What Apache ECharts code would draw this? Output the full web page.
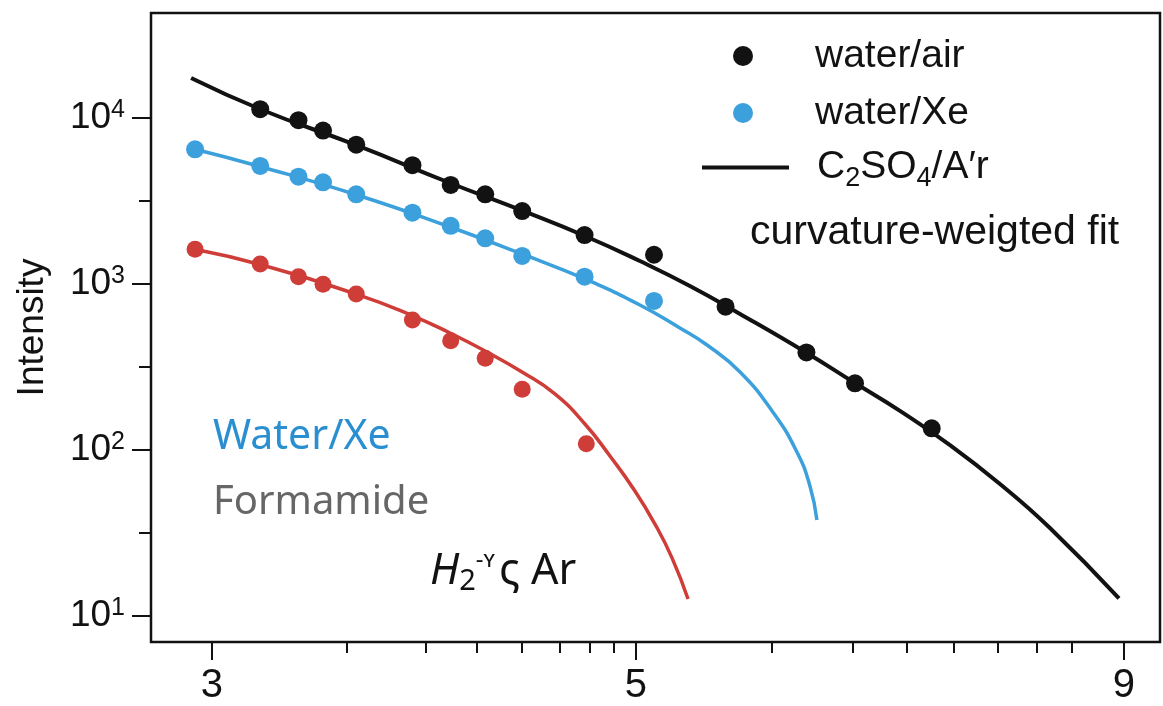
<!DOCTYPE html>
<html>
<head>
<meta charset="utf-8">
<script src="https://cdn.jsdelivr.net/npm/echarts@6/dist/echarts.min.js"></script>
<style>
  html, body { margin: 0; padding: 0; background: #fff; }
  #chart { width: 1163px; height: 706px; }
</style>
</head>
<body>
<div id="chart"></div>
<script>
// measured markers
const waterAirX = [3.18, 3.33, 3.43, 3.57, 3.82, 4.00, 4.17, 4.36, 4.70, 5.11, 5.57, 6.14, 6.51, 7.14];
const waterAirY = [11300, 9700, 8400, 6900, 5200, 3950, 3470, 2750, 1970, 1500, 730, 387, 252, 135];

const waterXeX = [2.94, 3.18, 3.33, 3.43, 3.57, 3.82, 4.00, 4.17, 4.36, 4.70, 5.11];
const waterXeY = [6480, 5140, 4430, 4100, 3470, 2690, 2240, 1885, 1475, 1107, 790];

const formamideX = [2.94, 3.18, 3.33, 3.43, 3.57, 3.82, 4.00, 4.17, 4.36, 4.71];
const formamideY = [1618, 1320, 1107, 995, 871, 607, 455, 357, 232, 109];

// fitted curves
const airFitX = [2.926, 3.183, 3.573, 3.997, 4.364, 4.702, 5.024, 5.336, 5.668, 6.137, 6.510, 6.872, 7.299, 7.752, 8.233, 8.947];
const airFitY = [17410, 11250, 6830, 4059, 2753, 1946, 1375, 973, 660, 387, 253, 172, 107, 62.4, 33.9, 12.75];

const xeFitX = [2.943, 3.179, 3.573, 3.997, 4.359, 4.702, 5.024, 5.272, 5.447, 5.668, 5.897, 6.070, 6.166, 6.218];
const xeFitY = [6460, 5104, 3437, 2205, 1516, 1072, 747, 543, 429, 295, 169, 97.3, 60.7, 37.9];

const redFitX = [2.943, 3.179, 3.573, 3.813, 3.997, 4.169, 4.359, 4.535, 4.702, 4.846, 4.994, 5.116, 5.222, 5.324];
const redFitY = [1614, 1311, 865, 650, 507, 395, 295, 217.5, 143.4, 92.0, 56.6, 35.8, 22.4, 12.66];

// axes
const xTicks = [3, 5, 9];
const xMinorTicks = [3.53, 3.88, 4.13, 4.36, 4.56, 4.73, 4.87, 5.89, 6.49, 6.93, 7.33, 7.73, 8.10, 8.45];
const yTicks = [10, 100, 1000, 10000];
const yMinorTicks = [31.6, 316, 3160];

const fitName = "C2SO4/A'r";

const zip = (xs, ys) => xs.map((x, i) => [x, ys[i]]);
const FONT = '"Liberation Sans", Arial, Helvetica, sans-serif';
const FONT2 = '"Noto Sans", "Open Sans", sans-serif';
const INK = '#121212';
const BLUE = '#3ba0dc';
const RED = '#cf3d38';

const xMin = 2.788, xMax = 9.40;
const yMin = 6.97, yMax = 42900;

const chart = echarts.init(document.getElementById('chart'));

const tickStyle = {color: INK, width: 2};

const option = {
  animation: false,
  backgroundColor: '#fff',
  grid: {
    left: 151,
    right: 3,
    top: 13,
    bottom: 64,
    show: true,
    borderColor: INK,
    borderWidth: 2.5
  },
  xAxis: [
    {
      type: 'log',
      position: 'bottom',
      min: xMin,
      max: xMax,
      axisLine: {show: false},
      splitLine: {show: false},
      axisTick: {show: true, customValues: xTicks, length: 18, lineStyle: tickStyle},
      axisLabel: {
        customValues: xTicks,
        margin: 24,
        fontSize: 40,
        fontFamily: FONT,
        color: INK,
        formatter: v => String(Math.round(v))
      }
    },
    {
      type: 'log',
      position: 'bottom',
      min: xMin,
      max: xMax,
      axisLine: {show: false},
      splitLine: {show: false},
      axisTick: {show: true, customValues: xMinorTicks, length: 11, lineStyle: tickStyle},
      axisLabel: {show: false}
    }
  ],
  yAxis: [
    {
      type: 'log',
      position: 'left',
      min: yMin,
      max: yMax,
      name: 'Intensity',
      nameLocation: 'middle',
      nameGap: 100,
      nameTextStyle: {fontSize: 37, fontFamily: FONT, color: INK},
      axisLine: {show: false},
      splitLine: {show: false},
      axisTick: {show: true, customValues: yTicks, length: 19, lineStyle: tickStyle},
      axisLabel: {
        customValues: yTicks,
        margin: 26,
        color: INK,
        formatter: v => '{m|10}{s|' + Math.round(Math.log10(v)) + '}',
        rich: {
          m: {fontSize: 37, fontFamily: FONT, color: INK, lineHeight: 40},
          s: {fontSize: 25, fontFamily: FONT, color: INK, lineHeight: 25, verticalAlign: 'top'}
        }
      }
    },
    {
      type: 'log',
      position: 'left',
      min: yMin,
      max: yMax,
      axisLine: {show: false},
      splitLine: {show: false},
      axisTick: {show: true, customValues: yMinorTicks, length: 12, lineStyle: tickStyle},
      axisLabel: {show: false}
    }
  ],
  legend: [
    {
      data: ['water/air', 'water/Xe'],
      orient: 'vertical',
      left: 733,
      top: 36,
      padding: 0,
      icon: 'circle',
      itemWidth: 20,
      itemHeight: 20,
      itemGap: 17,
      selectedMode: false,
      textStyle: {fontSize: 39, fontFamily: FONT, color: INK, lineHeight: 40, padding: [0, 0, 0, 57]}
    },
    {
      data: [{name: fitName, icon: 'rect'}],
      left: 702,
      top: 148,
      padding: 0,
      itemWidth: 87,
      itemHeight: 4,
      selectedMode: false,
      formatter: () => '{n|C}{s|2}{n|SO}{s|4}{n|/A′r}',
      textStyle: {
        color: INK,
        padding: [0, 0, 0, 23],
        rich: {
          n: {fontSize: 39, fontFamily: FONT, color: INK, lineHeight: 50},
          s: {fontSize: 27, fontFamily: FONT, color: INK, lineHeight: 27, verticalAlign: 'bottom'}
        }
      }
    }
  ],
  graphic: [
    {
      type: 'text', x: 750, y: 233,
      style: {text: 'curvature-weigted fit', fontSize: 41, fontFamily: FONT, fill: INK, verticalAlign: 'middle'}
    },
    {
      type: 'text', x: 213, y: 437,
      style: {text: 'Water/Xe', fontSize: 41, fontFamily: FONT2, fill: '#2a8fd0', verticalAlign: 'middle'}
    },
    {
      type: 'text', x: 213, y: 503,
      style: {text: 'Formamide', fontSize: 40, fontFamily: FONT2, fill: '#666666', verticalAlign: 'middle'}
    },
    {
      type: 'text', x: 430, y: 572,
      style: {
        text: '{i|H}{b|2}{p|-ʏ}{n|ς Ar}',
        verticalAlign: 'middle',
        rich: {
          i: {fontSize: 43, fontFamily: FONT2, fontStyle: 'italic', fill: INK, lineHeight: 48},
          b: {fontSize: 29, fontFamily: FONT2, fill: INK, lineHeight: 29, verticalAlign: 'bottom'},
          p: {fontSize: 24, fontFamily: FONT2, fill: INK, lineHeight: 24, verticalAlign: 'top', padding: [0, 4, 0, 0]},
          n: {fontSize: 43, fontFamily: FONT2, fill: INK, lineHeight: 48}
        }
      }
    }
  ],
  series: [
    {
      name: fitName,
      type: 'line',
      data: zip(airFitX, airFitY),
      smooth: 0.5,
      showSymbol: false,
      lineStyle: {color: INK, width: 4},
      itemStyle: {color: INK},
      z: 2
    },
    {
      name: 'water/Xe fit',
      type: 'line',
      data: zip(xeFitX, xeFitY),
      smooth: 0.5,
      showSymbol: false,
      lineStyle: {color: BLUE, width: 3.5},
      itemStyle: {color: BLUE},
      z: 2
    },
    {
      name: 'formamide fit',
      type: 'line',
      data: zip(redFitX, redFitY),
      smooth: 0.5,
      showSymbol: false,
      lineStyle: {color: RED, width: 3.5},
      itemStyle: {color: RED},
      z: 2
    },
    {
      name: 'water/air',
      type: 'scatter',
      data: zip(waterAirX, waterAirY),
      symbolSize: 18,
      itemStyle: {color: INK, opacity: 1},
      z: 5
    },
    {
      name: 'water/Xe',
      type: 'scatter',
      data: zip(waterXeX, waterXeY),
      symbolSize: 18,
      itemStyle: {color: BLUE, opacity: 1},
      z: 5
    },
    {
      name: 'Formamide',
      type: 'scatter',
      data: zip(formamideX, formamideY),
      symbolSize: 17,
      itemStyle: {color: RED, opacity: 1},
      z: 5
    }
  ]
};

chart.setOption(option);
</script>
</body>
</html>
